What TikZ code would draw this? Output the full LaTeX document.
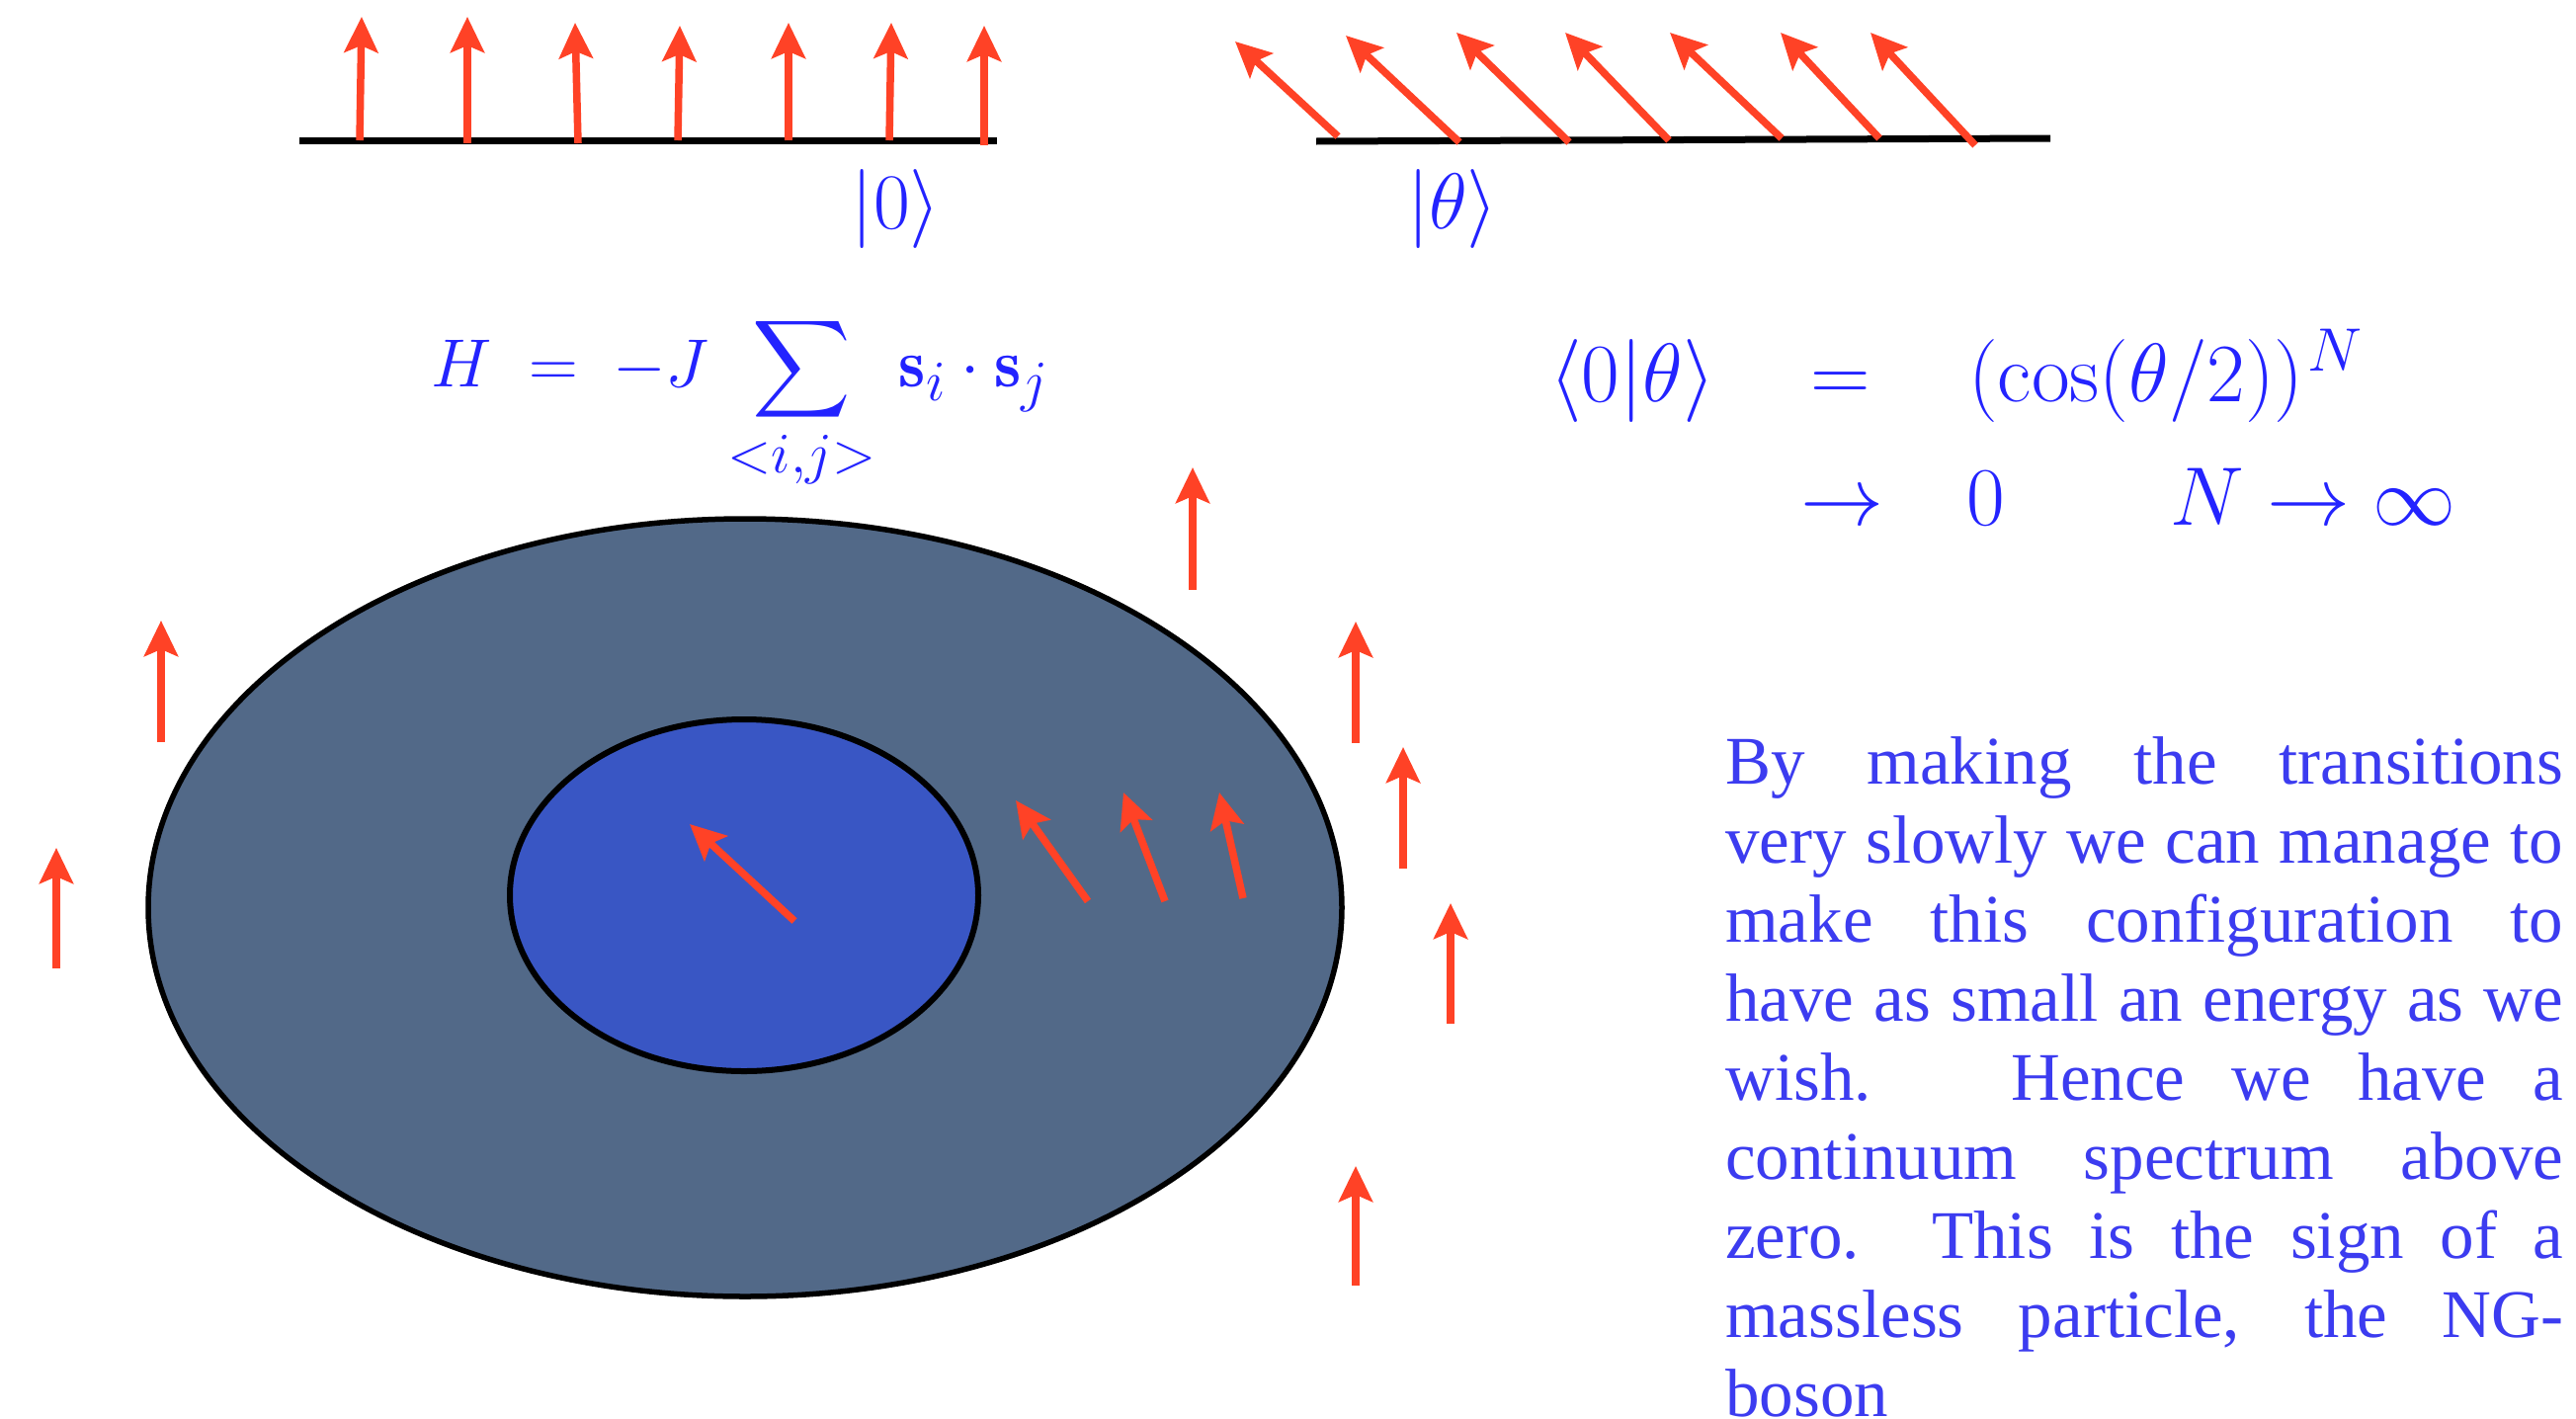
\RequirePackage{fix-cm}
\documentclass[tikz,border=0pt]{standalone}
\usepackage{amsmath}
\usepackage{fontspec}
\DeclareFontShape{OMX}{cmex}{m}{n}{<-> cmex10}{}
\DeclareMathSizes{69}{69}{58}{46}
\DeclareMathSizes{84}{84}{62}{50}
\newfontfamily\timesfont{Liberation Serif}
\usetikzlibrary{arrows.meta}
\definecolor{spinred}{RGB}{255,66,38}
\definecolor{outerfill}{RGB}{82,105,136}
\definecolor{innerfill}{RGB}{57,86,196}
\definecolor{mathblue}{RGB}{35,35,255}
\definecolor{parablue}{RGB}{60,60,240}
\begin{document}
\begin{tikzpicture}[x=1pt,y=-1pt,
  spin/.style={draw=spinred, line width=7.5pt, -{Stealth[length=36pt,width=34pt,inset=7pt]}},
  baseline/.style={draw=black, line width=7pt},
  mathtxt/.style={inner sep=0pt, text=mathblue},
  ketlabel/.style={mathtxt, anchor=base, font=\fontsize{80}{96}\selectfont},
  eqtxt/.style={mathtxt, font=\fontsize{84}{100}\selectfont}]
\useasboundingbox (0,0) rectangle (2607,1435);
\fill[white] (0,0) rectangle (2607,1435);

% top left: ground state
\draw[baseline] (303,142) -- (1009,142);
\draw[spin] (364,142) -- (366,17);
\draw[spin] (473,145) -- (473,17);
\draw[spin] (585,145) -- (582,23);
\draw[spin] (686,142) -- (688,26);
\draw[spin] (798,142) -- (798,23);
\draw[spin] (900,142) -- (902,23);
\draw[spin] (996,147) -- (996,26);
\node[ketlabel] (ket0) at (907,231) {$|0\rangle$};

% top right: rotated state
\draw[baseline] (1332,143) -- (2075,140);
\draw[spin] (1354,138) -- (1250,42);
\draw[spin] (1477,144) -- (1362,36);
\draw[spin] (1588,144) -- (1474,33);
\draw[spin] (1689,142) -- (1584,33);
\draw[spin] (1803,140) -- (1690,33);
\draw[spin] (1902,140) -- (1802,33);
\draw[spin] (1999,147) -- (1893,33);
\node[ketlabel] (ketth) at (1470,231) {$|\theta\rangle$};

% Hamiltonian
\node[mathtxt, anchor=base west, font=\fontsize{69}{84}\selectfont] (ham) at (436,391)
  {$\displaystyle H \;=\mkern4mu -J\mkern2mu \sum_{<i,j>}\mkern3mu \mathbf{s}_i\cdot\mathbf{s}_j$};

% overlap formula
\node[eqtxt, anchor=base east] (ov) at (1736,406) {$\langle 0|\theta\rangle$};
\node[eqtxt, anchor=base] (eq) at (1863,406) {$=$};
\node[eqtxt, anchor=base west] (cs) at (1992,406) {$(\cos(\theta/2))^{\mkern1mu N}$};
\node[eqtxt, anchor=base] (ar) at (1864,531) {$\to$};
\node[eqtxt, anchor=base west] (zr) at (1990,531) {$0$};
\node[eqtxt, anchor=base west] (lim) at (2196,531) {$N\to\infty$};

% domains
\draw[fill=outerfill, line width=5.5pt] (754,918.5) ellipse [x radius=604, y radius=393.5];
\draw[fill=innerfill, line width=6pt] (753,906) ellipse [x radius=237, y radius=178];

\draw[spin] (804,932) -- (698,834);
\draw[spin] (1101,912) -- (1028,810);
\draw[spin] (1179,912) -- (1137,802);
\draw[spin] (1258,909) -- (1234,802);

% outside spins
\draw[spin] (163,751) -- (163,628);
\draw[spin] (57,980) -- (57,858);
\draw[spin] (1207,597) -- (1207,473);
\draw[spin] (1372,752) -- (1372,629);
\draw[spin] (1420,879) -- (1420,756);
\draw[spin] (1468,1036) -- (1468,914);
\draw[spin] (1372,1301) -- (1372,1180);

% explanation
\node[inner sep=0pt, anchor=base west, text=parablue] (para) at (1746,793)
 {\parbox[t]{848pt}{\timesfont\fontsize{69}{80}\selectfont\parindent=0pt
  \makebox[\linewidth][s]{By making the transitions}\par
  \makebox[\linewidth][s]{very slowly we can manage to}\par
  \makebox[\linewidth][s]{make this configuration to}\par
  \makebox[\linewidth][s]{have as small an energy as we}\par
  \makebox[\linewidth][s]{wish.\ \ \ Hence we have a}\par
  \makebox[\linewidth][s]{continuum spectrum above}\par
  \makebox[\linewidth][s]{zero.\ \ This is the sign of a}\par
  \makebox[\linewidth][s]{massless particle, the NG-}\par
  boson}};
\end{tikzpicture}
\end{document}
